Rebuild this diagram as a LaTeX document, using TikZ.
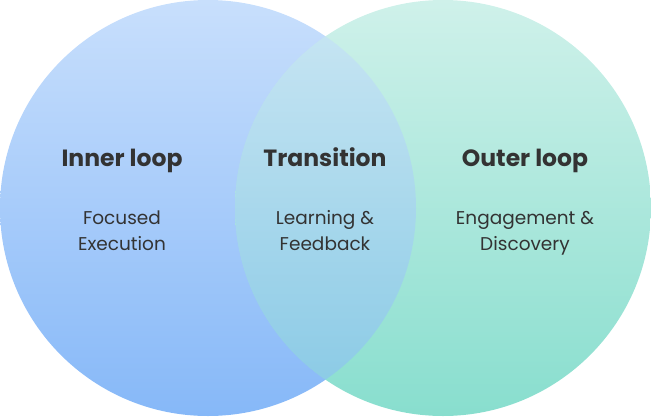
\documentclass[tikz,border=0pt]{standalone}
\usepackage{fontspec}
\setmainfont{Poppins}
\definecolor{ltop}{HTML}{C8DFFC}
\definecolor{lbot}{HTML}{86B8F8}
\definecolor{rtop}{HTML}{CFF1EA}
\definecolor{rbot}{HTML}{88DECE}
\definecolor{txt}{HTML}{333333}
\begin{document}
\begin{tikzpicture}[x=1pt,y=-1pt,
  ttl/.style={font=\fontsize{23.5}{28}\selectfont\bfseries,text=txt,anchor=base},
  body/.style={font=\fontsize{18.5}{26}\selectfont,text=txt,align=center,text height=14pt,text depth=4pt}]
\useasboundingbox (0,0) rectangle (651,416);
\shade[top color=ltop,bottom color=lbot] (208,208) circle (208);
\shade[top color=rtop,bottom color=rbot] (443,208) circle (208);
\begin{scope}
\clip (443,208) circle (208);
\shade[top color=ltop,bottom color=lbot,opacity=0.55] (208,208) circle (208);
\end{scope}
\node[ttl] (t1) at (122,166) {Inner loop};
\node[ttl] (t2) at (325,166) {Transition};
\node[ttl] (t3) at (525,166) {Outer loop};
\node[body] (b1) at (122,245) {Focused\\Execution};
\node[body] (b2) at (325,245) {Learning \&\\Feedback};
\node[body] (b3) at (525,245) {Engagement \&\\Discovery};
\end{tikzpicture}
\end{document}
